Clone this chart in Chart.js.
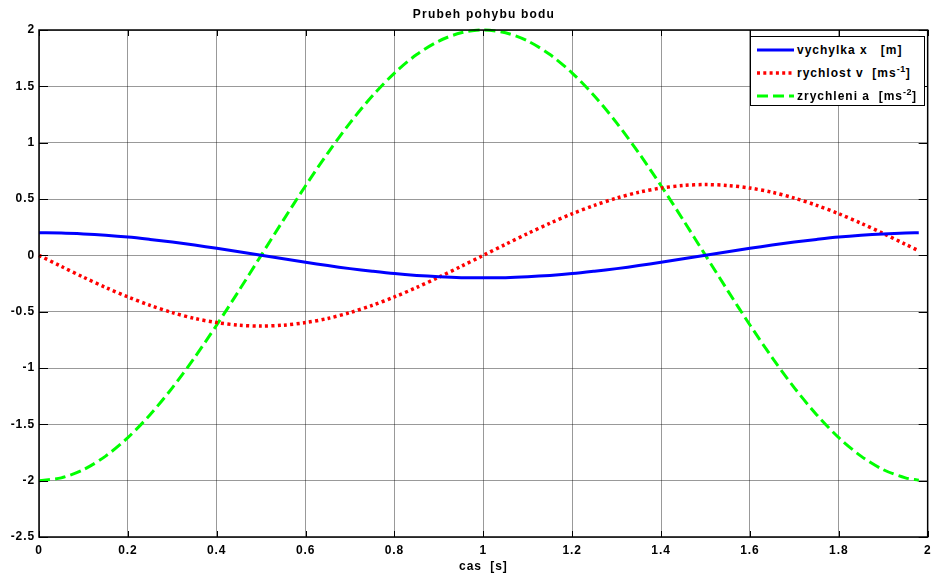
<!doctype html>
<html><head><meta charset="utf-8">
<title>Prubeh pohybu bodu</title>
<script src="https://cdn.jsdelivr.net/npm/chart.js@4.4.0/dist/chart.umd.min.js"></script>
<style>
  html,body{margin:0;padding:0;background:#fff}
  #wrap{position:relative;width:937px;height:575px}
  #title{position:absolute;left:39px;width:890px;top:7px;text-align:center;
    font:bold 12px "Liberation Sans",Arial,sans-serif;letter-spacing:1.2px;color:#000}
  #legend{position:absolute;left:750px;top:36px;width:175px;height:70px;border:1px solid #000;background:#fff;
    font:bold 12px "Liberation Sans",Arial,sans-serif;letter-spacing:1px;color:#000;box-sizing:border-box}
  .row{position:absolute;left:0;height:20px;line-height:20px;white-space:pre}
  .row svg{position:absolute;left:6px;top:8px}
  .row span{position:absolute;left:46px;top:0}
  sup{font-size:9px;vertical-align:0;position:relative;top:-5px;letter-spacing:0.5px}
</style></head><body>
<div id="wrap">
  <canvas id="c" width="937" height="575"></canvas>
  <div id="title">Prubeh pohybu bodu</div>
  <div id="legend">
    <div class="row" style="top:3px"><svg width="37" height="4"><line x1="0" y1="2" x2="37" y2="2" stroke="#0000ff" stroke-width="3"/></svg><span>vychylka x   [m]</span></div>
    <div class="row" style="top:26px"><svg width="37" height="4"><line x1="0" y1="2" x2="37" y2="2" stroke="#ff0000" stroke-width="3.5" stroke-dasharray="3 3.3"/></svg><span>rychlost v  [ms<sup>-1</sup>]</span></div>
    <div class="row" style="top:49px"><svg width="37" height="4"><line x1="0" y1="2" x2="37" y2="2" stroke="#00ff00" stroke-width="3" stroke-dasharray="11 5"/></svg><span>zrychleni a  [ms<sup>-2</sup>]</span></div>
  </div>
</div>
<script>
// cas [s]
const TIME = [0,0.05,0.1,0.15,0.2,0.25,0.3,0.35,0.4,0.45,0.5,0.55,0.6,0.65,0.7,0.75,0.8,0.85,0.9,0.95,
  1,1.05,1.1,1.15,1.2,1.25,1.3,1.35,1.4,1.45,1.5,1.55,1.6,1.65,1.7,1.75,1.8,1.85,1.9,1.95,1.98];
// vychylka x [m]
const DISP = [0.2,0.198,0.19,0.178,0.162,0.141,0.118,0.091,0.062,0.031,0,-0.031,-0.062,-0.091,-0.118,-0.141,-0.162,-0.178,-0.19,-0.198,
  -0.2,-0.198,-0.19,-0.178,-0.162,-0.141,-0.118,-0.091,-0.062,-0.031,0,0.031,0.062,0.091,0.118,0.141,0.162,0.178,0.19,0.198,0.2];
// rychlost v [ms^-1]
const VEL = [0,-0.098,-0.194,-0.285,-0.369,-0.444,-0.508,-0.56,-0.597,-0.62,-0.628,-0.62,-0.597,-0.56,-0.508,-0.444,-0.369,-0.285,-0.194,-0.098,
  0,0.098,0.194,0.285,0.369,0.444,0.508,0.56,0.597,0.62,0.628,0.62,0.597,0.56,0.508,0.444,0.369,0.285,0.194,0.098,0.04];
// zrychleni a [ms^-2]
const ACC = [-2,-1.975,-1.902,-1.782,-1.618,-1.414,-1.176,-0.908,-0.618,-0.313,0,0.313,0.618,0.908,1.176,1.414,1.618,1.782,1.902,1.975,
  2,1.975,1.902,1.782,1.618,1.414,1.176,0.908,0.618,0.313,0,-0.313,-0.618,-0.908,-1.176,-1.414,-1.618,-1.782,-1.902,-1.975,-1.996];

const X_TICKS = [0,0.2,0.4,0.6,0.8,1,1.2,1.4,1.6,1.8,2];
const Y_TICKS = [-2.5,-2,-1.5,-1,-0.5,0,0.5,1,1.5,2];

const pts = arr => TIME.map((t, i) => ({ x: t, y: arr[i] }));
const FONT = { family: '"Liberation Sans", Arial, sans-serif', size: 12, weight: 'bold' };

// sirsi pismo jako v MATLABu
const spacingPlugin = {
  id: 'spacing',
  beforeDraw(chart) { chart.ctx.letterSpacing = '0.9px'; }
};

// ramecek kolem grafu + kratke vnitrni carky
const boxPlugin = {
  id: 'box',
  afterDraw(chart) {
    const { ctx, chartArea: a, scales } = chart;
    ctx.save();
    ctx.strokeStyle = '#000';
    ctx.lineWidth = 1;
    ctx.beginPath();
    for (const v of X_TICKS) {
      const px = Math.round(scales.x.getPixelForValue(v)) + 0.5;
      ctx.moveTo(px, a.bottom); ctx.lineTo(px, a.bottom - 6);
      ctx.moveTo(px, a.top); ctx.lineTo(px, a.top + 6);
    }
    for (const v of Y_TICKS) {
      const py = Math.round(scales.y.getPixelForValue(v)) + 0.5;
      ctx.moveTo(a.left, py); ctx.lineTo(a.left + 9, py);
      ctx.moveTo(a.right, py); ctx.lineTo(a.right - 9, py);
    }
    ctx.stroke();
    ctx.lineWidth = 1.5;
    ctx.strokeRect(a.left, a.top, a.right - a.left, a.bottom - a.top);
    ctx.restore();
  }
};

new Chart(document.getElementById('c'), {
  type: 'line',
  data: {
    datasets: [
      { label: 'vychylka x [m]', data: pts(DISP), borderColor: '#0000ff', borderWidth: 3, pointRadius: 0, tension: 0.3, clip: false },
      { label: 'rychlost v [ms^-1]', data: pts(VEL), borderColor: '#ff0000', borderWidth: 3.5, borderDash: [3, 3.3], pointRadius: 0, tension: 0.3, clip: false },
      { label: 'zrychleni a [ms^-2]', data: pts(ACC), borderColor: '#00ff00', borderWidth: 3, borderDash: [11, 5], pointRadius: 0, tension: 0.3, clip: false }
    ]
  },
  options: {
    responsive: false, animation: false,
    layout: { padding: { left: 0, right: 8, top: 30, bottom: 0 } },
    plugins: {
      legend: { display: false },
      tooltip: { enabled: false },
      title: { display: false }
    },
    scales: {
      x: {
        type: 'linear', min: 0, max: 2,
        afterBuildTicks: s => { s.ticks = X_TICKS.map(v => ({ value: v })); },
        afterFit: s => { s.height = 38; },
        ticks: { color: '#000', font: FONT, padding: 6, maxRotation: 0,
          callback: v => String(Number(v.toFixed(1))) },
        grid: { color: 'rgba(0,0,0,0.4)', lineWidth: 1, drawTicks: false },
        border: { display: false },
        title: { display: true, text: 'cas  [s]', color: '#000', font: FONT, padding: { top: 2, bottom: 1 } }
      },
      y: {
        type: 'linear', min: -2.5, max: 2,
        afterBuildTicks: s => { s.ticks = Y_TICKS.map(v => ({ value: v })); },
        afterFit: s => { s.width = 39; },
        ticks: { color: '#000', font: FONT, padding: 4,
          callback: v => String(Number(v.toFixed(1))) },
        grid: { color: 'rgba(0,0,0,0.4)', lineWidth: 1, drawTicks: false },
        border: { display: false }
      }
    }
  },
  plugins: [spacingPlugin, boxPlugin]
});
</script>
</body></html>
